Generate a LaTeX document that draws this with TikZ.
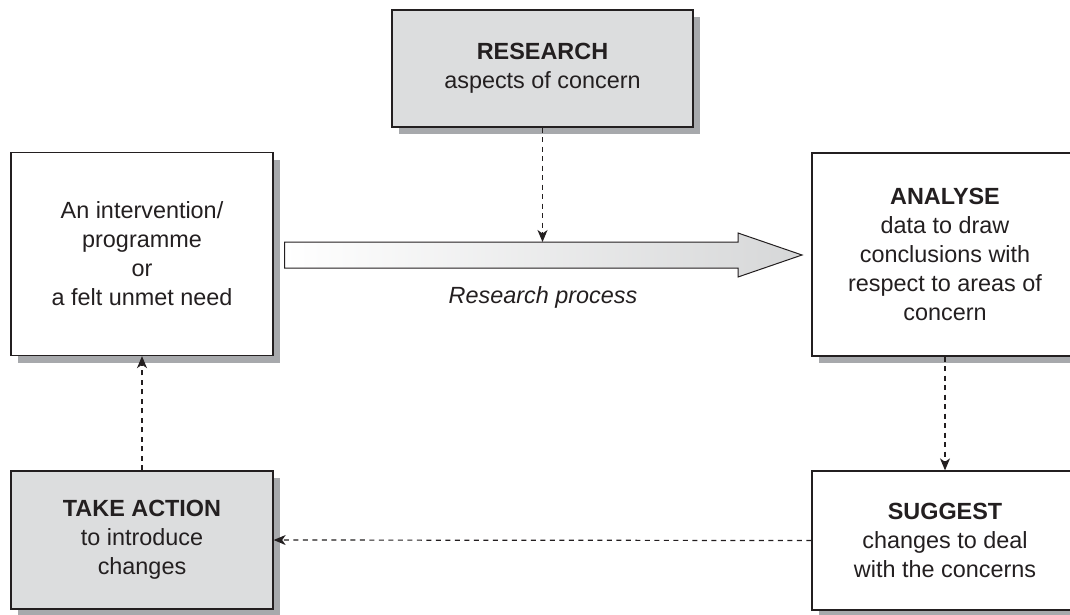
\documentclass[tikz,border=0pt]{standalone}
\usepackage{fontspec}
\setmainfont{Liberation Sans}
\usetikzlibrary{shadows,arrows.meta}
\definecolor{boxfill}{RGB}{220,221,222}
\definecolor{shadowgray}{RGB}{167,169,172}
\definecolor{ink}{RGB}{35,31,32}
\definecolor{arrowend}{RGB}{214,215,216}
\tikzset{
  every node/.style={font=\fontsize{23.4}{29}\selectfont, text=ink},
  box/.style={draw=ink, line width=1.3pt, rectangle, align=center, inner sep=0pt,
    drop shadow={shadow xshift=7pt, shadow yshift=-7pt, fill=shadowgray, opacity=1}},
  greybox/.style={box, fill=boxfill},
  whitebox/.style={box, fill=white},
  link/.style={draw=ink, line width=1.2pt, dash pattern=on 5pt off 4.5pt,
    -{Stealth[length=12pt,width=10pt,inset=3.5pt]}},
}
\begin{document}
\begin{tikzpicture}[x=1pt,y=-1pt]
\useasboundingbox (0,0) rectangle (1070,614);
\clip (0,0) rectangle (1070,614);
\fill[white] (0,0) rectangle (1070,614);

\node[greybox, minimum width=301pt, minimum height=117pt] (research) at (542.5,68.5)
  {\textbf{RESEARCH}\\aspects of concern};
\node[whitebox, minimum width=262pt, minimum height=203pt] (prog) at (142,254)
  {An intervention/\\programme\\or\\a felt unmet need};
\node[whitebox, minimum width=266pt, minimum height=203pt] (analyse) at (945,254.5)
  {\textbf{ANALYSE}\\data to draw\\conclusions with\\respect to areas of\\concern};
\node[whitebox, minimum width=266pt, minimum height=139pt] (suggest) at (945,540.5)
  {\textbf{SUGGEST}\\changes to deal\\with the concerns};
\node[greybox, minimum width=262pt, minimum height=138pt] (action) at (142,540)
  {\textbf{TAKE ACTION}\\to introduce\\changes};

% process arrow
\shadedraw[draw=ink, line width=1pt, left color=white, right color=arrowend]
  (284.5,242) -- (738,242) -- (738,233) -- (802,255) -- (738,277) -- (738,268)
  -- (284.5,268) -- cycle;
\coordinate (arrowtop) at (542.5,242);
\node[anchor=base, font=\fontsize{23.4}{29}\selectfont\itshape] (proc) at (543,303) {Research process};

\draw[link] (research.south) -- (arrowtop);
\draw[link] (analyse.south) -- (suggest.north);
\draw[link] (suggest.west) -- (action.east);
\draw[link] (action.north) -- (prog.south);
\end{tikzpicture}
\end{document}
